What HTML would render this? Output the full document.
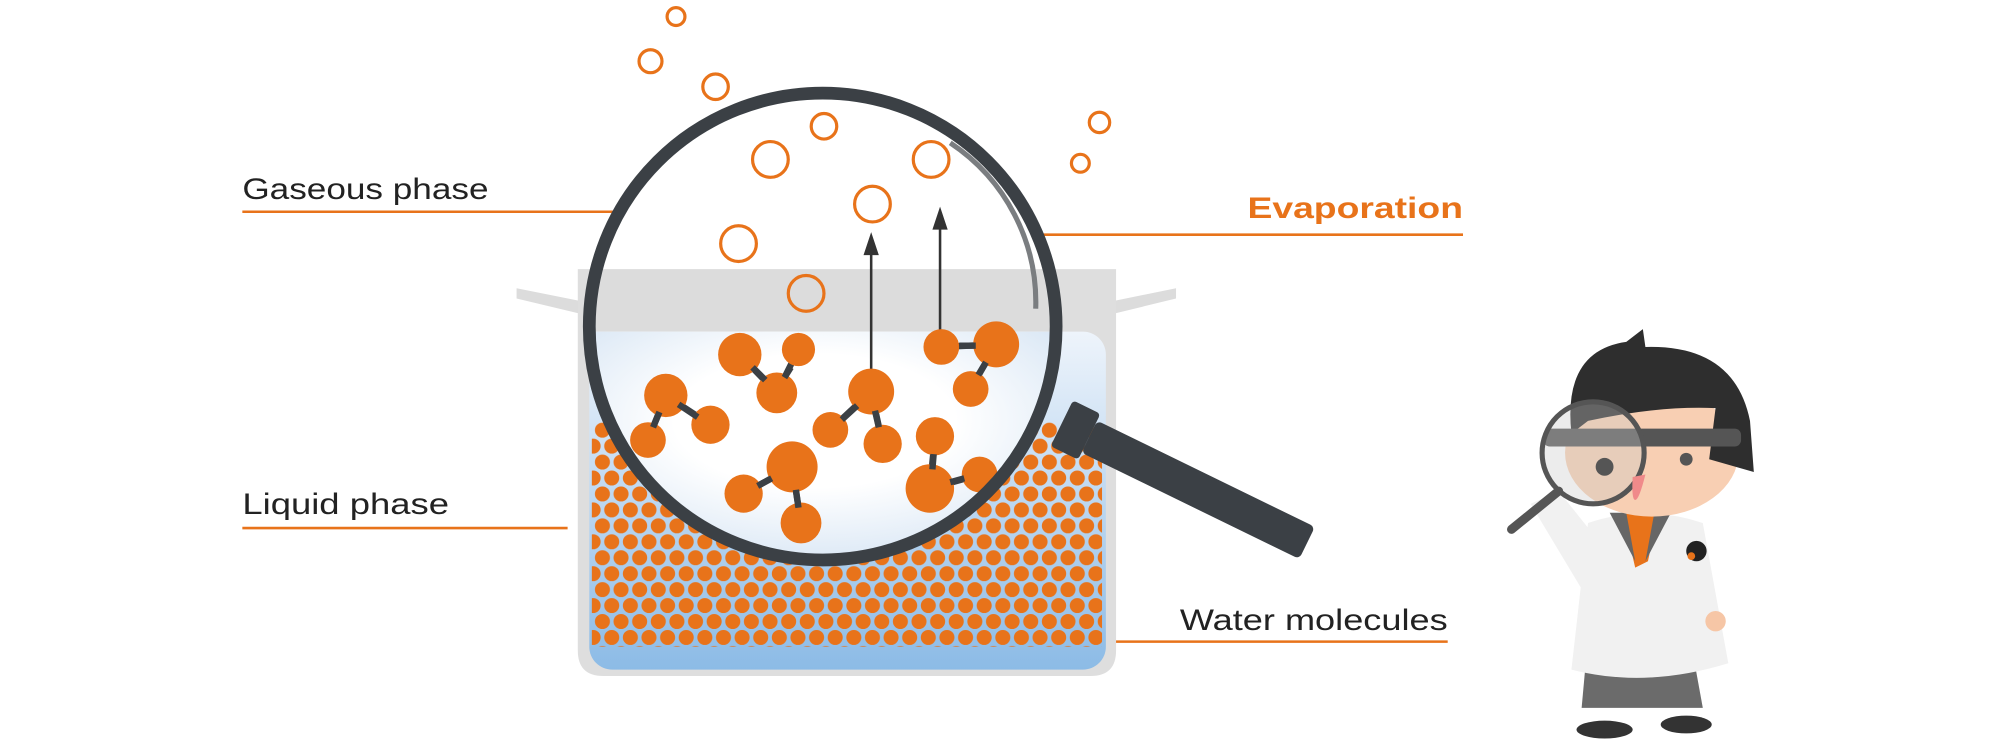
<!DOCTYPE html>
<html><head><meta charset="utf-8"><style>
html,body{margin:0;padding:0;background:#fff;}
svg{display:block}
</style></head><body>
<svg width="2000" height="743" viewBox="0 0 1568 582.5" preserveAspectRatio="none" xmlns="http://www.w3.org/2000/svg">
<defs>
<linearGradient id="water" x1="0" y1="0" x2="0" y2="1">
<stop offset="0" stop-color="#eef4fb"/><stop offset="1" stop-color="#8cbbe6"/>
</linearGradient>
<radialGradient id="lens" cx="0.45" cy="0.35" r="0.75">
<stop offset="0.35" stop-color="#ffffff"/><stop offset="1" stop-color="#c4d9ef"/>
</radialGradient>
<pattern id="dp" x="465" y="331" width="14.6" height="25" patternUnits="userSpaceOnUse">
<circle cx="7.3" cy="6.25" r="5.9" fill="#e8731a"/>
<circle cx="0" cy="18.75" r="5.9" fill="#e8731a"/>
<circle cx="14.6" cy="18.75" r="5.9" fill="#e8731a"/>
</pattern>
<clipPath id="lc"><circle cx="645" cy="256" r="182"/></clipPath>
</defs>
<g font-family="Liberation Sans, sans-serif" font-size="23">
<text x="190" y="156" fill="#222" textLength="193" lengthAdjust="spacingAndGlyphs">Gaseous phase</text>
<text x="190" y="403" fill="#222" textLength="162" lengthAdjust="spacingAndGlyphs">Liquid phase</text>
<text x="978" y="171" fill="#e8731a" font-weight="bold" textLength="169" lengthAdjust="spacingAndGlyphs">Evaporation</text>
<text x="925" y="494" fill="#222" textLength="210" lengthAdjust="spacingAndGlyphs">Water molecules</text>
</g>
<g stroke="#e8731a" stroke-width="2">
<line x1="190" y1="166" x2="518" y2="166"/>
<line x1="190" y1="414" x2="445" y2="414"/>
<line x1="740" y1="184" x2="1147" y2="184"/>
<line x1="865" y1="503" x2="1135" y2="503"/>
</g>
<path d="M405,226 L455,236 L455,246 L405,234 Z" fill="#dcdcdc"/>
<path d="M922,226 L873,236 L873,246 L922,234 Z" fill="#dcdcdc"/>
<path d="M453,211 H875 V510 Q875,530 855,530 H473 Q453,530 453,510 Z" fill="#dedede"/>
<rect x="462" y="260" width="405" height="265" rx="18" fill="url(#water)"/>
<rect x="464" y="331" width="400" height="176" fill="url(#dp)"/>
<g clip-path="url(#lc)">
<rect x="450" y="60" width="400" height="400" fill="#fff"/>
<rect x="453" y="211" width="422" height="49" fill="#dcdcdc"/>
<rect x="450" y="260" width="420" height="200" fill="url(#lens)"/>
</g>
<path d="M745,112 A150,150 0 0 1 812,242" fill="none" stroke="#7a7d80" stroke-width="4"/>
<g fill="none" stroke="#e8731a" stroke-width="2.5">
<circle cx="530" cy="13" r="7"/><circle cx="510" cy="48" r="9"/><circle cx="561" cy="68" r="10"/>
<circle cx="646" cy="99" r="10"/><circle cx="604" cy="125" r="14"/><circle cx="730" cy="125" r="14"/>
<circle cx="684" cy="160" r="14"/><circle cx="579" cy="191" r="14"/><circle cx="632" cy="230" r="14"/>
<circle cx="862" cy="96" r="8"/><circle cx="847" cy="128" r="7"/>
</g>
<g stroke="#333" stroke-width="2"><line x1="683" y1="305" x2="683" y2="195"/><line x1="737" y1="262" x2="737" y2="175"/></g>
<path d="M677,200 L683,182 L689,200 Z M731,180 L737,162 L743,180 Z" fill="#333"/>
<g stroke="#3b4045" stroke-width="5">
<line x1="580" y1="278" x2="609" y2="308"/><line x1="626" y1="274" x2="609" y2="308"/>
<line x1="522" y1="310" x2="557" y2="333"/><line x1="522" y1="310" x2="508" y2="345"/>
<line x1="683" y1="307" x2="651" y2="337"/><line x1="683" y1="307" x2="692" y2="348"/>
<line x1="738" y1="272" x2="781" y2="270"/><line x1="781" y1="270" x2="761" y2="305"/>
<line x1="621" y1="366" x2="583" y2="387"/><line x1="621" y1="366" x2="628" y2="410"/>
<line x1="733" y1="342" x2="729" y2="383"/><line x1="729" y1="383" x2="768" y2="372"/>
</g>
<g fill="#e8731a" clip-path="url(#lc)">
<circle cx="580" cy="278" r="17"/><circle cx="626" cy="274" r="13"/><circle cx="609" cy="308" r="16"/>
<circle cx="522" cy="310" r="17"/><circle cx="557" cy="333" r="15"/><circle cx="508" cy="345" r="14"/>
<circle cx="683" cy="307" r="18"/><circle cx="651" cy="337" r="14"/><circle cx="692" cy="348" r="15"/>
<circle cx="738" cy="272" r="14"/><circle cx="781" cy="270" r="18"/><circle cx="761" cy="305" r="14"/>
<circle cx="621" cy="366" r="20"/><circle cx="583" cy="387" r="15"/><circle cx="628" cy="410" r="16"/>
<circle cx="733" cy="342" r="15"/><circle cx="729" cy="383" r="19"/><circle cx="768" cy="372" r="14"/>
</g>
<g stroke="#3b4045" stroke-width="5" clip-path="url(#lc)">
<line x1="590" y1="288" x2="600" y2="298"/><line x1="620" y1="288" x2="615" y2="296"/>
<line x1="532" y1="317" x2="547" y2="327"/><line x1="517" y1="323" x2="512" y2="335"/>
<line x1="672" y1="318" x2="660" y2="329"/><line x1="686" y1="322" x2="689" y2="335"/>
<line x1="752" y1="271" x2="765" y2="271"/><line x1="773" y1="284" x2="767" y2="294"/>
<line x1="605" y1="375" x2="594" y2="381"/><line x1="624" y1="384" x2="626" y2="398"/>
<line x1="732" y1="356" x2="731" y2="368"/><line x1="745" y1="378" x2="756" y2="375"/>
</g>
<circle cx="645" cy="256" r="183" fill="none" stroke="#3b4045" stroke-width="10"/>
<g transform="translate(845,338) rotate(26)">
<rect x="-14" y="-20" width="24" height="40" rx="3" fill="#3b4045"/>
<rect x="10" y="-14" width="190" height="28" rx="4" fill="#3b4045"/>
</g>
<g>
<path d="M1240,555 L1245,500 L1325,500 L1335,555 Z" fill="#6b6b6b"/>
<ellipse cx="1258" cy="572" rx="22" ry="7" fill="#333"/><ellipse cx="1322" cy="568" rx="20" ry="7" fill="#333"/>
<path d="M1245,410 Q1290,395 1335,410 L1355,520 Q1290,540 1232,525 Z" fill="#f1f1f1"/>
<path d="M1200,395 L1222,385 L1250,420 L1245,470 Z" fill="#f1f1f1"/>
<path d="M1272,402 L1300,402 L1292,440 L1282,445 Z" fill="#e8731a"/>
<path d="M1262,402 L1275,402 L1282,440 Z M1297,402 L1310,402 L1290,440 Z" fill="#666"/>
<circle cx="1345" cy="487" r="8" fill="#f6c6a6"/>
<ellipse cx="1295" cy="355" rx="68" ry="50" fill="#f8cfb3"/>
<path d="M1232,340 Q1225,275 1275,268 L1288,258 L1290,272 Q1360,270 1372,330 L1375,370 L1340,360 L1345,320 Q1300,318 1245,330 Z" fill="#2e2e2e"/>
<rect x="1210" y="336" width="155" height="14" rx="5" fill="#555"/>
<circle cx="1249" cy="355" r="40" fill="rgba(200,200,200,0.35)" stroke="#555" stroke-width="4"/>
<circle cx="1258" cy="366" r="7" fill="#555"/><circle cx="1322" cy="360" r="5" fill="#555"/>
<line x1="1222" y1="385" x2="1185" y2="415" stroke="#555" stroke-width="7" stroke-linecap="round"/>
<path d="M1290,372 Q1285,392 1282,392 Q1279,392 1280,374 Z" fill="#f08a8a"/>
<circle cx="1330" cy="432" r="8" fill="#222"/><circle cx="1326" cy="436" r="3" fill="#e8731a"/>
</g>
</svg>
</body></html>
